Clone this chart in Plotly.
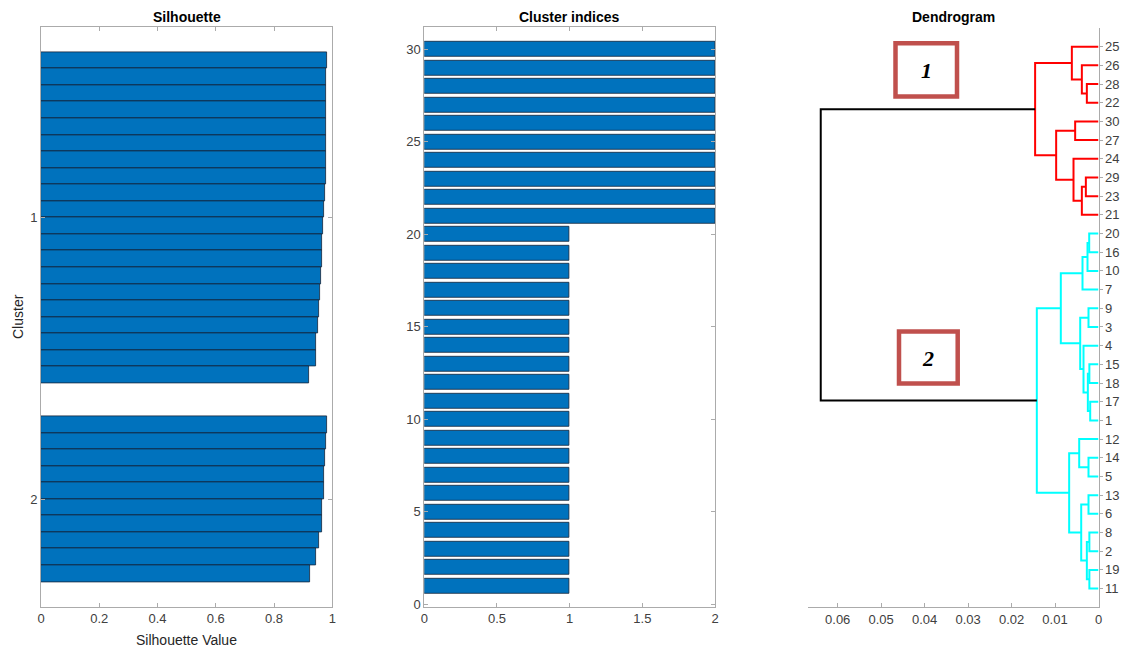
import plotly.graph_objects as go

# ---------------- data ----------------
# silhouette values per cluster, sorted descending (top to bottom)
sil_cluster1 = [0.983, 0.979, 0.979, 0.978, 0.978, 0.978, 0.977, 0.977, 0.974, 0.973,
                0.969, 0.965, 0.963, 0.961, 0.959, 0.955, 0.952, 0.945, 0.945, 0.920]
sil_cluster2 = [0.981, 0.979, 0.975, 0.973, 0.972, 0.966, 0.963, 0.955, 0.943, 0.924]
cluster_names = ["1", "2"]

# cluster index of each observation
observations = list(range(1, 31))
cluster_index = [1, 1, 1, 1, 1, 1, 1, 1, 1, 1,
                 1, 1, 1, 1, 1, 1, 1, 1, 1, 1,
                 2, 2, 2, 2, 2, 2, 2, 2, 2, 2]

# dendrogram: leaf order from bottom to top, and linkage rows [a, b, height]
# (ids 1..30 are observations, 30+k is the node created by row k)
leaf_order = [11, 19, 2, 8, 6, 13, 5, 14, 12, 1, 17, 18, 15, 4, 3, 9, 7, 10, 16, 20,
              21, 23, 29, 24, 27, 30, 22, 28, 26, 25]
linkage = [
    [28, 22, 0.00268],   # 31
    [26, 31, 0.00383],   # 32
    [25, 32, 0.00613],   # 33
    [30, 27, 0.00537],   # 34
    [29, 23, 0.00291],   # 35
    [35, 21, 0.00383],   # 36
    [24, 36, 0.00575],   # 37
    [34, 37, 0.00974],   # 38
    [33, 38, 0.01458],   # 39
    [20, 16, 0.00214],   # 40
    [40, 10, 0.00253],   # 41
    [41, 7, 0.00368],    # 42
    [9, 3, 0.00230],     # 43
    [15, 18, 0.00210],   # 44
    [17, 1, 0.00191],    # 45
    [44, 45, 0.00245],   # 46
    [4, 46, 0.00345],    # 47
    [43, 47, 0.00421],   # 48
    [42, 48, 0.00867],   # 49
    [14, 5, 0.00230],    # 50
    [12, 50, 0.00444],   # 51
    [13, 6, 0.00230],    # 52
    [8, 2, 0.00210],     # 53
    [19, 11, 0.00210],   # 54
    [53, 54, 0.00268],   # 55
    [52, 55, 0.00398],   # 56
    [51, 56, 0.00675],   # 57
    [49, 57, 0.01419],   # 58
    [39, 58, 0.06390],   # 59
]
group_colors = ["#FF0000", "#00FFFF"]

# ---------------- styling ----------------
W, H = 1121, 648
FONT = "Liberation Sans, Arial, sans-serif"
AX = "#ababab"
TICKFONT = dict(family=FONT, size=13, color="#404040")
BAR_FILL = "#0072BD"
BAR_EDGE = "#14243a"


def fx(px):
    return px / W


def fy(py):
    return 1 - py / H


fig = go.Figure()

# ---------------- silhouette plot ----------------
space = 2
sil_groups = [sil_cluster1, sil_cluster2]
sil_pos, sil_val, sil_ticks = [], [], []
pos = space + 1
for vals in sil_groups:
    p = list(range(pos, pos + len(vals)))
    sil_pos += p
    sil_val += vals
    sil_ticks.append(sum(p) / len(p))
    pos = p[-1] + space + 1
sil_top = 1
sil_bottom = sil_pos[-1] + space

fig.add_trace(go.Bar(
    x=sil_val, y=sil_pos, orientation="h", width=1,
    marker=dict(color=BAR_FILL, line=dict(color=BAR_EDGE, width=0.8)),
    xaxis="x", yaxis="y", hoverinfo="skip", showlegend=False))

# ---------------- cluster indices ----------------
fig.add_trace(go.Bar(
    x=cluster_index, y=observations, orientation="h", width=0.8,
    marker=dict(color=BAR_FILL, line=dict(color=BAR_EDGE, width=0.8)),
    xaxis="x2", yaxis="y2", hoverinfo="skip", showlegend=False))

# ---------------- dendrogram ----------------
n = len(leaf_order)
ypos = {leaf: i + 1 for i, leaf in enumerate(leaf_order)}
hgt = {leaf: 0.0 for leaf in leaf_order}
parent = {}
for k, (a, b, h) in enumerate(linkage):
    node = n + 1 + k
    ypos[node] = (ypos[a] + ypos[b]) / 2
    hgt[node] = h
    parent[a] = node
    parent[b] = node

threshold = 0.7 * max(r[2] for r in linkage)
roots = []
for k in range(len(linkage)):
    node = n + 1 + k
    if hgt[node] < threshold and (node not in parent or hgt[parent[node]] >= threshold):
        roots.append(node)
root_color = {r: group_colors[i % len(group_colors)] for i, r in enumerate(roots)}


def link_color(node):
    if hgt[node] >= threshold:
        return "#000000"
    while node not in root_color:
        node = parent[node]
    return root_color[node]


segments = {}
for k, (a, b, h) in enumerate(linkage):
    node = n + 1 + k
    c = link_color(node)
    xs, ys = segments.setdefault(c, ([], []))
    xs += [hgt[a], h, h, hgt[b], None]
    ys += [ypos[a], ypos[a], ypos[b], ypos[b], None]

for c, (xs, ys) in segments.items():
    fig.add_trace(go.Scatter(
        x=xs, y=ys, mode="lines", line=dict(color=c, width=2),
        xaxis="x3", yaxis="y3", hoverinfo="skip", showlegend=False))

# ---------------- axes ----------------
base = dict(showgrid=False, zeroline=False, showline=True, linecolor=AX, linewidth=1,
            ticks="inside", tickcolor=AX, ticklen=4, tickwidth=1, tickfont=TICKFONT,
            automargin=False)

fig.update_layout(
    template="none",
    width=W, height=H,
    margin=dict(l=0, r=0, t=0, b=0, pad=0),
    paper_bgcolor="white", plot_bgcolor="white",
    bargap=0,
    xaxis=dict(base, domain=[fx(41), fx(332.3)], anchor="y", range=[0, 1],
               tickvals=[0, 0.2, 0.4, 0.6, 0.8, 1], mirror="ticks"),
    yaxis=dict(base, domain=[fy(606.7), fy(27.3)], anchor="x",
               range=[sil_bottom, sil_top], tickvals=sil_ticks, ticktext=cluster_names,
               mirror="ticks"),
    xaxis2=dict(base, domain=[fx(424.3), fx(715)], anchor="y2", range=[0, 2],
                tickvals=[0, 0.5, 1, 1.5, 2], mirror="ticks"),
    yaxis2=dict(base, domain=[fy(606.7), fy(26.7)], anchor="x2", range=[-0.13, 31.23],
                tickvals=[0, 5, 10, 15, 20, 25, 30], mirror="ticks"),
    xaxis3=dict(base, domain=[fx(807.7), fx(1098.5)], anchor="y3", range=[0.0669, 0],
                tickvals=[0.06, 0.05, 0.04, 0.03, 0.02, 0.01, 0],
                ticktext=["0.06", "0.05", "0.04", "0.03", "0.02", "0.01", "0"]),
    yaxis3=dict(base, domain=[fy(607.3), fy(28)], anchor="x3", side="right",
                range=[0, n + 1], tickvals=list(range(1, n + 1)),
                ticktext=[str(v) for v in leaf_order], ticks="outside", ticklen=3),
)

# ---------------- titles and labels ----------------
titles = [("Silhouette", (41 + 332.3) / 2), ("Cluster indices", (424.3 + 715) / 2),
          ("Dendrogram", (807.7 + 1098.5) / 2)]
for text, cx in titles:
    fig.add_annotation(x=fx(cx), y=fy(17), xref="paper", yref="paper", text=f"<b>{text}</b>",
                       showarrow=False, xanchor="center", yanchor="middle",
                       font=dict(family=FONT, size=14, color="#000000"))

fig.add_annotation(x=fx(186.5), y=fy(640), xref="paper", yref="paper", text="Silhouette Value",
                   showarrow=False, xanchor="center", yanchor="middle",
                   font=dict(family=FONT, size=14, color="#262626"))
fig.add_annotation(x=fx(18), y=fy(317), xref="paper", yref="paper", text="Cluster",
                   showarrow=False, textangle=-90, xanchor="center", yanchor="middle",
                   font=dict(family=FONT, size=14, color="#262626"))

# ---------------- group markers on the dendrogram ----------------
BOX = "#C0504D"
for label, (x0, y0, x1, y1) in [("1", (895.5, 43.3, 957.0, 96.5)),
                                ("2", (899.0, 331.5, 957.7, 383.5))]:
    fig.add_shape(type="rect", xref="paper", yref="paper",
                  x0=fx(x0), x1=fx(x1), y0=fy(y1), y1=fy(y0),
                  line=dict(color=BOX, width=4.5), fillcolor="white", layer="above")
    fig.add_annotation(x=fx((x0 + x1) / 2), y=fy((y0 + y1) / 2 + 1), xref="paper", yref="paper",
                       text=label, showarrow=False, xanchor="center", yanchor="middle",
                       font=dict(family="Liberation Serif, Times New Roman, serif", size=22,
                                 color="#000000", weight="bold", style="italic"))

fig.write_html("out.html")
